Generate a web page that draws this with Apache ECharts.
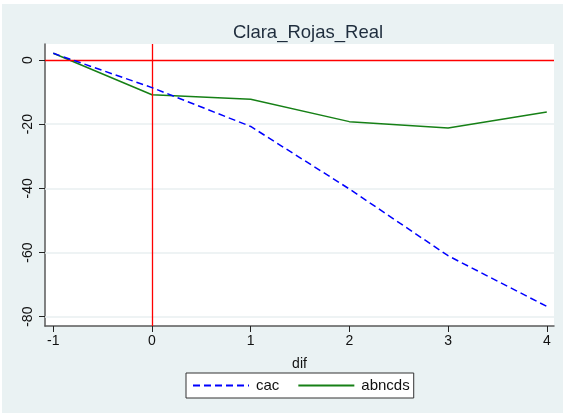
<!DOCTYPE html>
<html>
<head>
<meta charset="utf-8">
<script src="https://cdn.jsdelivr.net/npm/echarts@6/dist/echarts.min.js"></script>
<style>
  html, body { margin: 0; padding: 0; background: #ffffff; }
  #chart { width: 563px; height: 413px; }
</style>
</head>
<body>
<div id="chart"></div>
<script>
// Event-time axis (dif) and the two cumulative series
const difValues = [-1, 0, 1, 2, 3, 4];
const cacValues = [2.1, -8.6, -20.7, -40.2, -61.0, -76.8];
const abncdsValues = [2.1, -10.8, -12.2, -19.2, -21.2, -16.2];

// Tick labels shown on each axis
const xTicks = [-1, 0, 1, 2, 3, 4];
const yTicks = [0, -20, -40, -60, -80];

const chartTitle = 'Clara_Rojas_Real';
const xTitle = 'dif';
const seriesNames = ['cac', 'abncds'];

const FONT = '"Liberation Sans", Arial, sans-serif';
const AXIS_COLOR = '#5a5a5a';
const GRID_COLOR = '#e9eff1';

const chart = echarts.init(document.getElementById('chart'), null, { renderer: 'canvas' });

const pair = (xs, ys) => xs.map((x, i) => [x, ys[i]]);

const option = {
  animation: false,
  backgroundColor: '#ffffff',
  textStyle: { fontFamily: FONT },
  graphic: [
    {
      type: 'rect',
      z: -10,
      shape: { x: 2, y: 4, width: 561, height: 409 },
      style: { fill: '#eaf2f3' }
    },
    {
      type: 'rect',
      z: -9,
      shape: { x: 45, y: 44, width: 509, height: 282 },
      style: { fill: '#ffffff' }
    }
  ],
  title: {
    text: chartTitle,
    left: 303,
    textAlign: 'center',
    top: 18,
    textStyle: { fontFamily: FONT, fontSize: 18.5, fontWeight: 'normal', color: '#1f2d3d' }
  },
  legend: {
    left: 186,
    top: 373,
    orient: 'horizontal',
    data: seriesNames,
    itemWidth: 56,
    itemHeight: 12,
    itemGap: 18,
    padding: [5, 4, 5, 6],
    backgroundColor: '#ffffff',
    borderColor: '#333333',
    borderWidth: 1,
    borderRadius: 0,
    itemStyle: { opacity: 0 },
    textStyle: { fontFamily: FONT, fontSize: 15, color: '#111111', padding: [0, 0, 0, 2] }
  },
  grid: { left: 45, right: 9, top: 44, bottom: 87, containLabel: false },
  xAxis: {
    type: 'value',
    min: -1.084,
    max: 4.073,
    name: xTitle,
    nameLocation: 'middle',
    nameGap: 31,
    nameTextStyle: { fontFamily: FONT, fontSize: 14, color: '#111111' },
    axisLine: { show: true, onZero: false, lineStyle: { color: AXIS_COLOR, width: 1.5 } },
    axisTick: { show: true, length: 6, customValues: xTicks, lineStyle: { color: '#222222', width: 1 } },
    axisLabel: { customValues: xTicks, margin: 8, fontFamily: FONT, fontSize: 14, color: '#111111' },
    splitLine: { show: false }
  },
  yAxis: {
    type: 'value',
    min: -82.9,
    max: 5.0,
    axisLine: { show: true, onZero: false, lineStyle: { color: AXIS_COLOR, width: 1.5 } },
    axisTick: { show: true, length: 6, customValues: yTicks, lineStyle: { color: '#222222', width: 1 } },
    axisLabel: {
      customValues: yTicks,
      rotate: 90,
      margin: 10,
      fontFamily: FONT,
      fontSize: 14,
      color: '#111111'
    },
    splitLine: { show: false }
  },
  series: [
    {
      name: seriesNames[0],
      type: 'line',
      data: pair(difValues, cacValues),
      symbol: 'none',
      z: 5,
      lineStyle: { color: '#0000ff', width: 1.5, type: [7, 4] },
      itemStyle: { color: '#0000ff' },
      markLine: {
        silent: true,
        symbol: 'none',
        animation: false,
        label: { show: false },
        lineStyle: { color: GRID_COLOR, width: 1.5, type: 'solid' },
        z: 1,
        data: yTicks.filter(v => v !== 0).map(v => ({ yAxis: v }))
      }
    },
    {
      name: seriesNames[1],
      type: 'line',
      data: pair(difValues, abncdsValues),
      symbol: 'none',
      z: 4,
      lineStyle: { color: '#168016', width: 1.5, type: 'solid' },
      itemStyle: { color: '#168016' },
      markLine: {
        silent: true,
        symbol: 'none',
        animation: false,
        label: { show: false },
        lineStyle: { color: '#ff0000', width: 1.3, type: 'solid' },
        data: [{ xAxis: 0 }, { yAxis: 0 }]
      }
    }
  ]
};

chart.setOption(option);
</script>
</body>
</html>
